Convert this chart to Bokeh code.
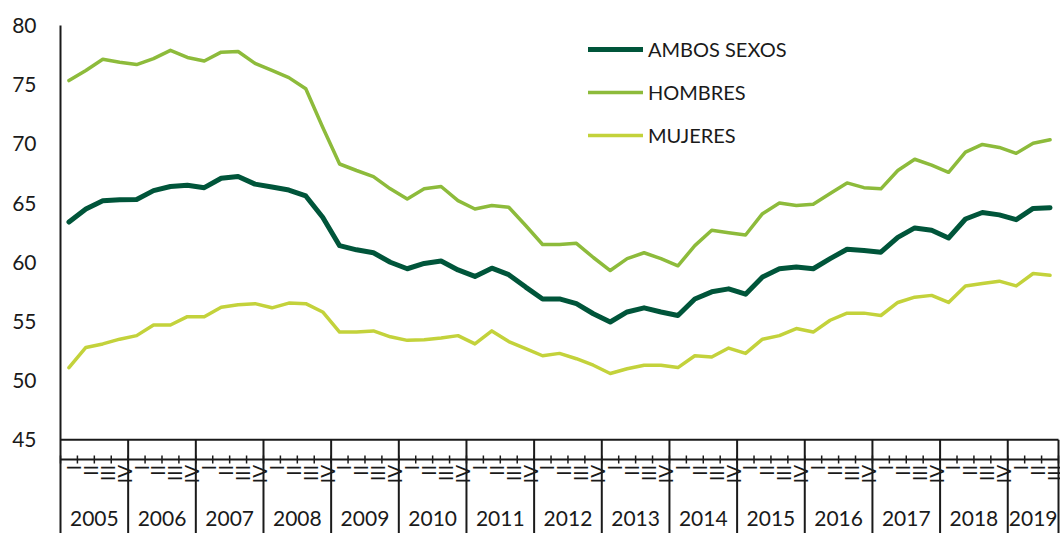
import math
from bokeh.plotting import figure
from bokeh.models import Range1d, Legend, LegendItem, ColumnDataSource
from bokeh.core.properties import value
from bokeh.embed import file_html
from bokeh.resources import INLINE

# ---------------- data ----------------
years = [str(y) for y in range(2005, 2020)]
quarters_per_year = [4] * 14 + [3]
quarter_names = ["I", "II", "III", "IV"]
y_ticks = [45, 50, 55, 60, 65, 70, 75, 80]

ambos = [63.4, 64.5, 65.2, 65.27, 65.3, 66.05, 66.4, 66.5, 66.3, 67.1, 67.25, 66.6,
         66.35, 66.1, 65.6, 63.8, 61.4, 61.05, 60.8, 60.0, 59.45, 59.9, 60.1, 59.35,
         58.8, 59.5, 58.95, 57.9, 56.9, 56.9, 56.5, 55.65, 54.95, 55.8, 56.15, 55.8,
         55.5, 56.9, 57.5, 57.75, 57.3, 58.75, 59.45, 59.6, 59.45, 60.3, 61.1, 61.0,
         60.85, 62.1, 62.9, 62.7, 62.05, 63.65, 64.2, 64.0, 63.6, 64.55, 64.6]
hombres = [75.35, 76.2, 77.15, 76.9, 76.7, 77.2, 77.9, 77.3, 77.0, 77.75, 77.8, 76.8,
           76.2, 75.6, 74.65, 71.4, 68.3, 67.75, 67.24, 66.2, 65.35, 66.2, 66.4, 65.2,
           64.5, 64.8, 64.65, 63.1, 61.5, 61.5, 61.6, 60.4, 59.3, 60.3, 60.8, 60.3,
           59.7, 61.4, 62.7, 62.5, 62.3, 64.1, 65.0, 64.8, 64.9, 65.8, 66.7, 66.3,
           66.2, 67.75, 68.7, 68.2, 67.6, 69.3, 69.95, 69.7, 69.2, 70.05, 70.35]
mujeres = [51.1, 52.8, 53.1, 53.5, 53.8, 54.7, 54.7, 55.4, 55.4, 56.2, 56.4, 56.5,
           56.15, 56.55, 56.5, 55.8, 54.1, 54.1, 54.2, 53.7, 53.4, 53.45, 53.6, 53.8,
           53.1, 54.2, 53.3, 52.7, 52.1, 52.3, 51.85, 51.3, 50.6, 51.0, 51.3, 51.3,
           51.1, 52.1, 52.0, 52.75, 52.3, 53.5, 53.8, 54.4, 54.1, 55.1, 55.7, 55.7,
           55.5, 56.6, 57.05, 57.2, 56.6, 58.0, 58.2, 58.4, 58.0, 59.05, 58.9]

series_names = ["AMBOS SEXOS", "HOMBRES", "MUJERES"]
series_colors = ["#00553a", "#8dbb3b", "#c3d23b"]
series_widths = [5, 3.5, 3.5]

# ---------------- layout ----------------
W, H = 1060, 533
LEFT = 60                      # px from left of canvas to the value axis
n_q = sum(quarters_per_year)
q = (1058 - LEFT) / n_q        # px per quarter
PPU = 11.837                   # px per value unit
TOP_VAL = 80 + 25 / PPU        # value at top of canvas

def vy(px):                    # canvas px from top -> value
    return TOP_VAL - px / PPU

FONT = "Lato"
TXT = "#1a1a1a"
AX = "#1a1a1a"

p = figure(width=W, height=H, output_backend="svg", toolbar_location=None,
           x_range=Range1d(-LEFT / q, -LEFT / q + W / q),
           y_range=Range1d(vy(H), TOP_VAL),
           x_axis_location=None, y_axis_location=None,
           min_border=0, min_border_left=0, min_border_right=0,
           min_border_top=0, min_border_bottom=0)
p.outline_line_color = None
p.grid.visible = False
p.background_fill_color = "white"
p.border_fill_color = "white"

ymin, ymax = y_ticks[0], y_ticks[-1]
bottom = vy(H)

# value axis and x axis line
p.segment(x0=[0], y0=[ymax], x1=[0], y1=[bottom], line_color=AX, line_width=2)
p.segment(x0=[0], y0=[ymin], x1=[n_q], y1=[ymin], line_color=AX, line_width=2)

# year separators
bounds = []
acc = 0
for n in quarters_per_year:
    acc += n
    bounds.append(acc)
p.segment(x0=bounds, y0=[ymin] * len(bounds), x1=bounds, y1=[bottom] * len(bounds),
          line_color=AX, line_width=2)

# quarter row line with ticks
qline = vy(459)
p.segment(x0=[0], y0=[qline], x1=[n_q], y1=[qline], line_color=AX, line_width=2)
qb = list(range(0, n_q + 1))
p.segment(x0=qb, y0=[vy(455)] * len(qb), x1=qb, y1=[vy(463)] * len(qb),
          line_color=AX, line_width=1.5)

# quarter labels (rotated)
qx, qt = [], []
i = 0
for n in quarters_per_year:
    for k in range(n):
        qx.append(i + 0.76)
        qt.append(quarter_names[k])
        i += 1
p.text(x=qx, y=[vy(464.5)] * len(qx), text=qt, angle=math.pi / 2,
       text_align="right", text_baseline="alphabetic",
       text_font=value(FONT), text_font_size="19px", text_color=TXT)

# year labels
yx = []
start = 0
for n in quarters_per_year:
    yx.append(start + n / 2)
    start += n
p.text(x=yx, y=[vy(518)] * len(yx), text=years, text_align="center",
       text_baseline="middle", text_font=value(FONT), text_font_size="21px",
       text_color=TXT)

# y tick labels
p.text(x=[-(LEFT - 36) / q] * len(y_ticks), y=y_ticks,
       text=[str(t) for t in y_ticks], text_align="right", text_baseline="middle",
       text_font=value(FONT), text_font_size="21px", text_color=TXT)

# series
xs = [k + 0.5 for k in range(n_q)]
renderers = []
for name, data, col, lw in zip(series_names, [ambos, hombres, mujeres],
                               series_colors, series_widths):
    src = ColumnDataSource(dict(x=xs, y=data))
    r = p.line("x", "y", source=src, line_color=col, line_width=lw,
               line_cap="round", line_join="round")
    renderers.append(r)

legend = Legend(items=[LegendItem(label=n, renderers=[r])
                       for n, r in zip(series_names, renderers)],
                location=(588, H - 147.3), orientation="vertical",
                glyph_width=55, glyph_height=20, label_height=20, spacing=19,
                label_standoff=5, padding=0, margin=0,
                border_line_color=None, background_fill_alpha=0,
                label_text_font=FONT, label_text_font_size="20px",
                label_text_color=TXT)
p.add_layout(legend)

open("out.html", "w").write(file_html(p, INLINE))
